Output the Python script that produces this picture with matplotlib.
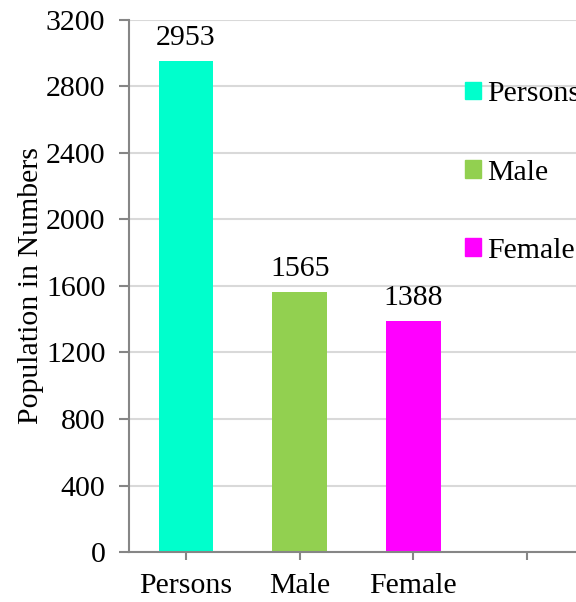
import matplotlib
matplotlib.use("Agg")
import matplotlib.pyplot as plt
from matplotlib.patches import Patch

categories = ["Persons", "Male", "Female", ""]
values = [2953, 1565, 1388]
colors = ["#00FFCC", "#92D050", "#FF00FF"]
yticks = [0, 400, 800, 1200, 1600, 2000, 2400, 2800, 3200]

plt.rcParams["font.family"] = ["Liberation Serif", "DejaVu Serif"]
plt.rcParams["font.size"] = 21.5

fig = plt.figure(figsize=(5.76, 6.02), dpi=100)
ax = fig.add_axes([0.224, 0.083, 0.776, 0.884])

x = list(range(len(values)))
ax.bar(x, values, width=0.48, color=colors, zorder=2)
for xi, v in zip(x, values):
    ax.annotate(str(v), (xi, v), xytext=(0, 7), textcoords="offset points",
                ha="center", va="bottom")

ax.set_xticks(range(len(categories)))
ax.set_xticklabels(categories)
ax.set_xlim(-0.5, 3.43)
ax.set_ylim(0, 3200)
ax.set_yticks(yticks)
ax.yaxis.grid(True, color="#d9d9d9", linewidth=1.5, zorder=0)
ax.set_axisbelow(True)
ax.set_ylabel("Population in Numbers", labelpad=1)

for s in ["top", "right"]:
    ax.spines[s].set_visible(False)
for s in ["left", "bottom"]:
    ax.spines[s].set_color("#868686")
    ax.spines[s].set_linewidth(1.5)
ax.tick_params(axis="both", colors="#868686", labelcolor="black", width=1.5)
ax.tick_params(axis="y", length=7, pad=10)
ax.tick_params(axis="x", length=6, pad=9)

handles = [Patch(color=c) for c in colors]
fig.legend(handles, categories[:3], loc="upper left", bbox_to_anchor=(0.808, 0.865),
           frameon=False, handlelength=0.52, handleheight=0.52, handletextpad=0.22,
           labelspacing=1.75, borderpad=0, borderaxespad=0)

fig.savefig("out.png", dpi=100)
